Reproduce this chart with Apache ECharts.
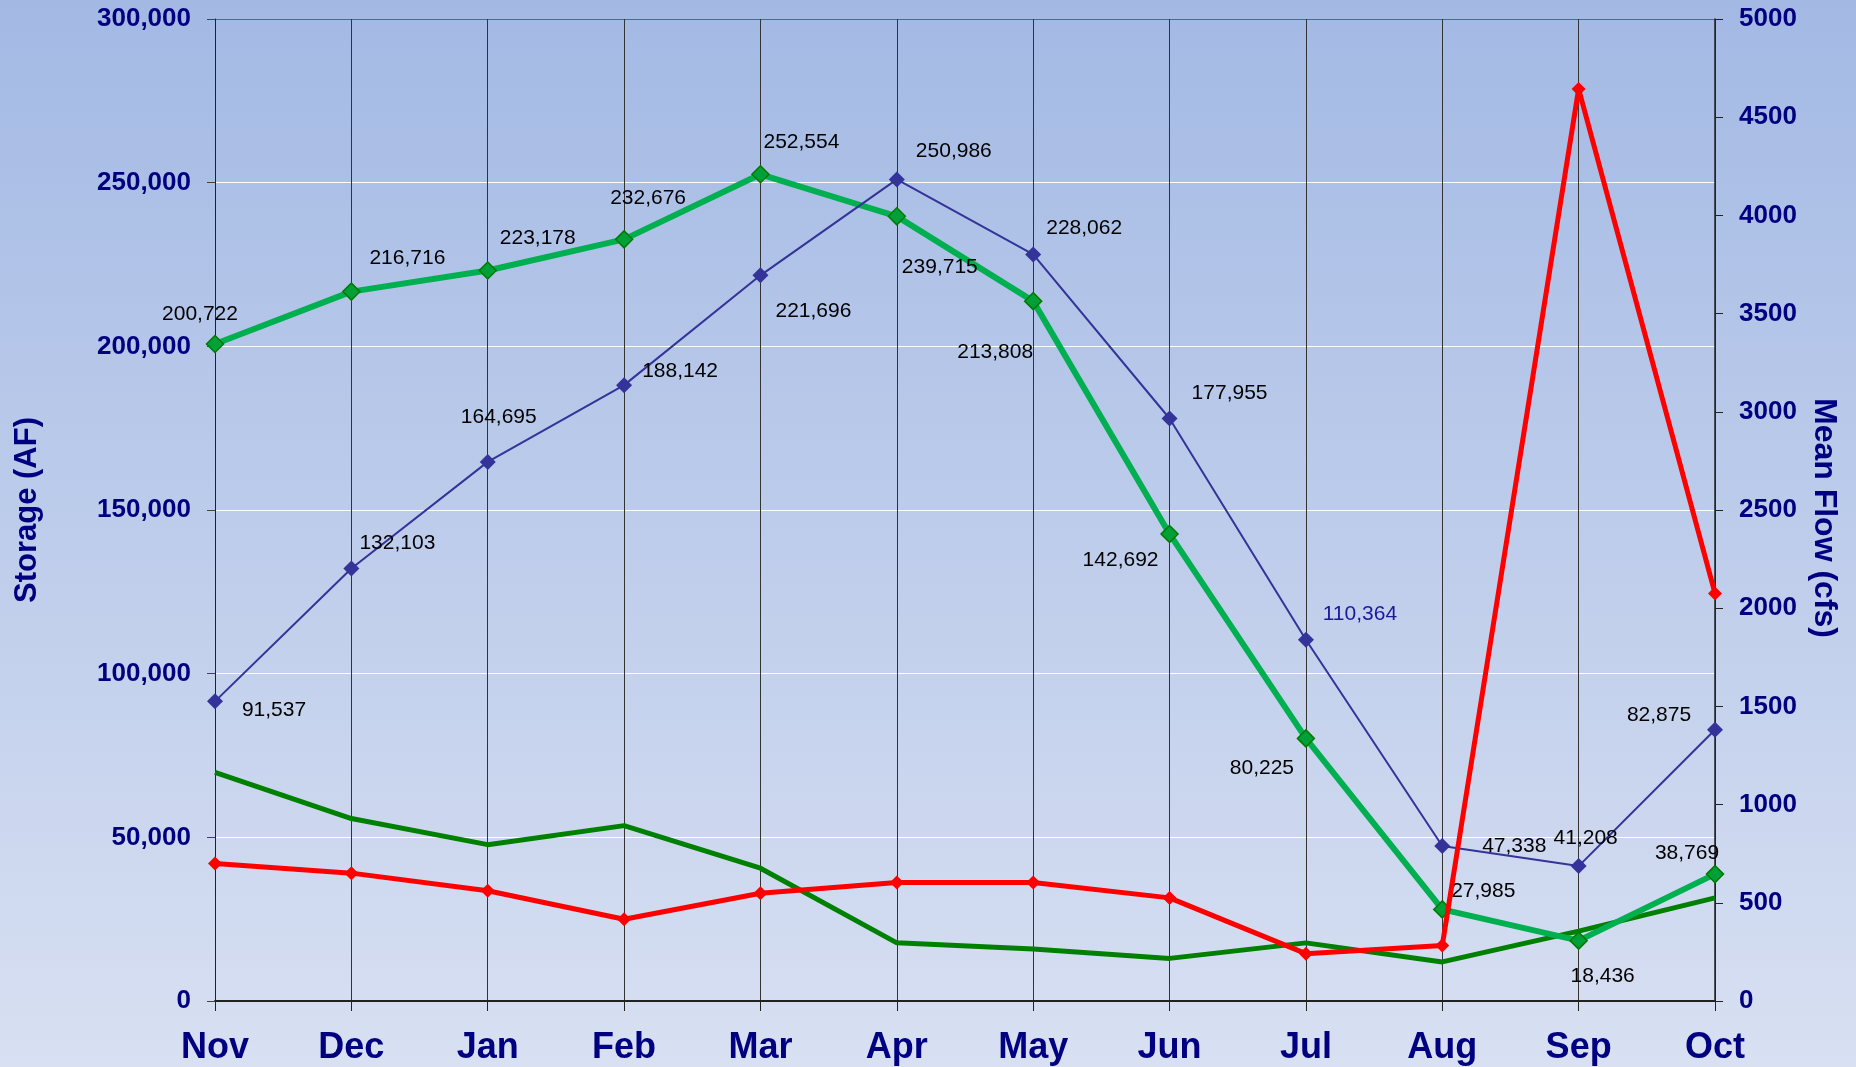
<!DOCTYPE html>
<html>
<head>
<meta charset="utf-8">
<title>Storage and Mean Flow</title>
<script src="https://cdn.jsdelivr.net/npm/echarts@6/dist/echarts.min.js"></script>
<style>
  html, body { margin: 0; padding: 0; }
  #chart { width: 1856px; height: 1067px; }
</style>
</head>
<body>
<div id="chart"></div>
<script>
// months on the x axis
const months = ['Nov', 'Dec', 'Jan', 'Feb', 'Mar', 'Apr', 'May', 'Jun', 'Jul', 'Aug', 'Sep', 'Oct']

// storage (AF), left axis
const storageGreen = [200722, 216716, 223178, 232676, 252554, 239715, 213808, 142692, 80225, 27985, 18436, 38769]
const storageBlue = [91537, 132103, 164695, 188142, 221696, 250986, 228062, 177955, 110364, 47338, 41208, 82875]

// mean flow (cfs), right axis
const flowRed = [700, 651, 561, 416, 549, 603, 603, 525, 241, 283, 4644, 2075]
const flowDarkGreen = [1164, 929, 796, 893, 676, 296, 265, 217, 296, 199, 356, 525]

// tick labels
const leftTicks = [0, 50000, 100000, 150000, 200000, 250000, 300000]
const rightTicks = [0, 500, 1000, 1500, 2000, 2500, 3000, 3500, 4000, 4500, 5000]

// where each data label sits relative to its point (px)
const greenLabelOffsets = [[-15, -30], [56, -33], [50, -32], [24, -41], [41, -32], [43, 51],
  [-38, 51], [-49, 26], [-44, 30], [41, -18], [24, 36], [-28, -21]]
const blueLabelOffsets = [[59, 9], [46, -25], [11, -45], [56, -14], [53, 36], [57, -28],
  [51, -26], [60, -25], [54, -26], [72, 0], [7, -28], [-56, -15]]

const navy = '#000080'
const font = '"Liberation Sans", Arial, sans-serif'
const fmt = v => v.toLocaleString('en-US')

function labelled(values, offsets, special) {
  return values.map((v, i) => {
    const item = { value: v, label: { offset: offsets[i] } }
    if (special && special[i]) item.label.color = special[i]
    return item
  })
}

const chart = echarts.init(document.getElementById('chart'))

const dataLabel = {
  show: true,
  position: 'inside',
  align: 'center',
  verticalAlign: 'middle',
  fontFamily: font,
  fontSize: 21,
  color: '#000',
  formatter: p => fmt(p.value)
}

chart.setOption({
  animation: false,
  backgroundColor: new echarts.graphic.LinearGradient(0, 0, 0, 1, [
    { offset: 0, color: '#a3b9e4' },
    { offset: 1, color: '#d8e0f2' }
  ]),
  grid: { left: 215, right: 141, top: 19, bottom: 66, containLabel: false },
  xAxis: {
    type: 'category',
    data: months,
    boundaryGap: false,
    axisLine: { lineStyle: { color: '#222', width: 2 } },
    axisTick: { show: true, length: 10, lineStyle: { color: '#222' } },
    axisLabel: { color: navy, fontFamily: font, fontWeight: 'bold', fontSize: 36, margin: 29 },
    splitLine: { show: true, lineStyle: { color: '#333', width: 1 } }
  },
  yAxis: [
    {
      type: 'value',
      min: leftTicks[0],
      max: leftTicks[leftTicks.length - 1],
      interval: leftTicks[1] - leftTicks[0],
      name: 'Storage (AF)',
      nameLocation: 'middle',
      nameGap: 172,
      nameTextStyle: { color: navy, fontFamily: font, fontWeight: 'bold', fontSize: 31 },
      axisLine: { show: true, lineStyle: { color: '#222' } },
      axisTick: { show: true, length: 8, lineStyle: { color: '#444' } },
      axisLabel: { color: navy, fontFamily: font, fontWeight: 'bold', fontSize: 26, margin: 24, formatter: fmt },
      splitLine: {
        show: true,
        lineStyle: { color: ['#222', '#fff', '#fff', '#fff', '#fff', '#fff', '#666'], width: 1 }
      }
    },
    {
      type: 'value',
      position: 'right',
      min: rightTicks[0],
      max: rightTicks[rightTicks.length - 1],
      interval: rightTicks[1] - rightTicks[0],
      name: 'Mean Flow (cfs)',
      nameLocation: 'middle',
      nameRotate: -90,
      nameGap: 90,
      nameTextStyle: { color: navy, fontFamily: font, fontWeight: 'bold', fontSize: 32, padding: [0, 0, 0, 16] },
      axisLine: { show: true, lineStyle: { color: '#222', width: 1.5 } },
      axisTick: { show: true, length: 8, lineStyle: { color: '#222' } },
      axisLabel: { color: navy, fontFamily: font, fontWeight: 'bold', fontSize: 26, margin: 24, formatter: v => String(v) },
      splitLine: { show: false }
    }
  ],
  series: [
    {
      name: 'Mean Flow 2',
      type: 'line',
      yAxisIndex: 1,
      data: flowDarkGreen,
      showSymbol: false,
      symbol: 'none',
      lineStyle: { color: '#008000', width: 5 },
      itemStyle: { color: '#008000' },
      z: 2
    },
    {
      name: 'Storage 1',
      type: 'line',
      data: labelled(storageGreen, greenLabelOffsets),
      symbol: 'diamond',
      symbolSize: 17,
      lineStyle: { color: '#00b050', width: 6 },
      itemStyle: { color: '#00a038', borderColor: '#007a00', borderWidth: 1.5 },
      label: dataLabel,
      z: 3
    },
    {
      name: 'Storage 2',
      type: 'line',
      data: labelled(storageBlue, blueLabelOffsets, { 8: '#1a1a99' }),
      symbol: 'diamond',
      symbolSize: 16,
      lineStyle: { color: '#333399', width: 2 },
      itemStyle: { color: '#333399' },
      label: dataLabel,
      z: 4
    },
    {
      name: 'Mean Flow 1',
      type: 'line',
      yAxisIndex: 1,
      data: flowRed,
      symbol: 'diamond',
      symbolSize: 14,
      lineStyle: { color: '#ff0000', width: 5 },
      itemStyle: { color: '#ff0000' },
      z: 5
    }
  ]
})
</script>
</body>
</html>
